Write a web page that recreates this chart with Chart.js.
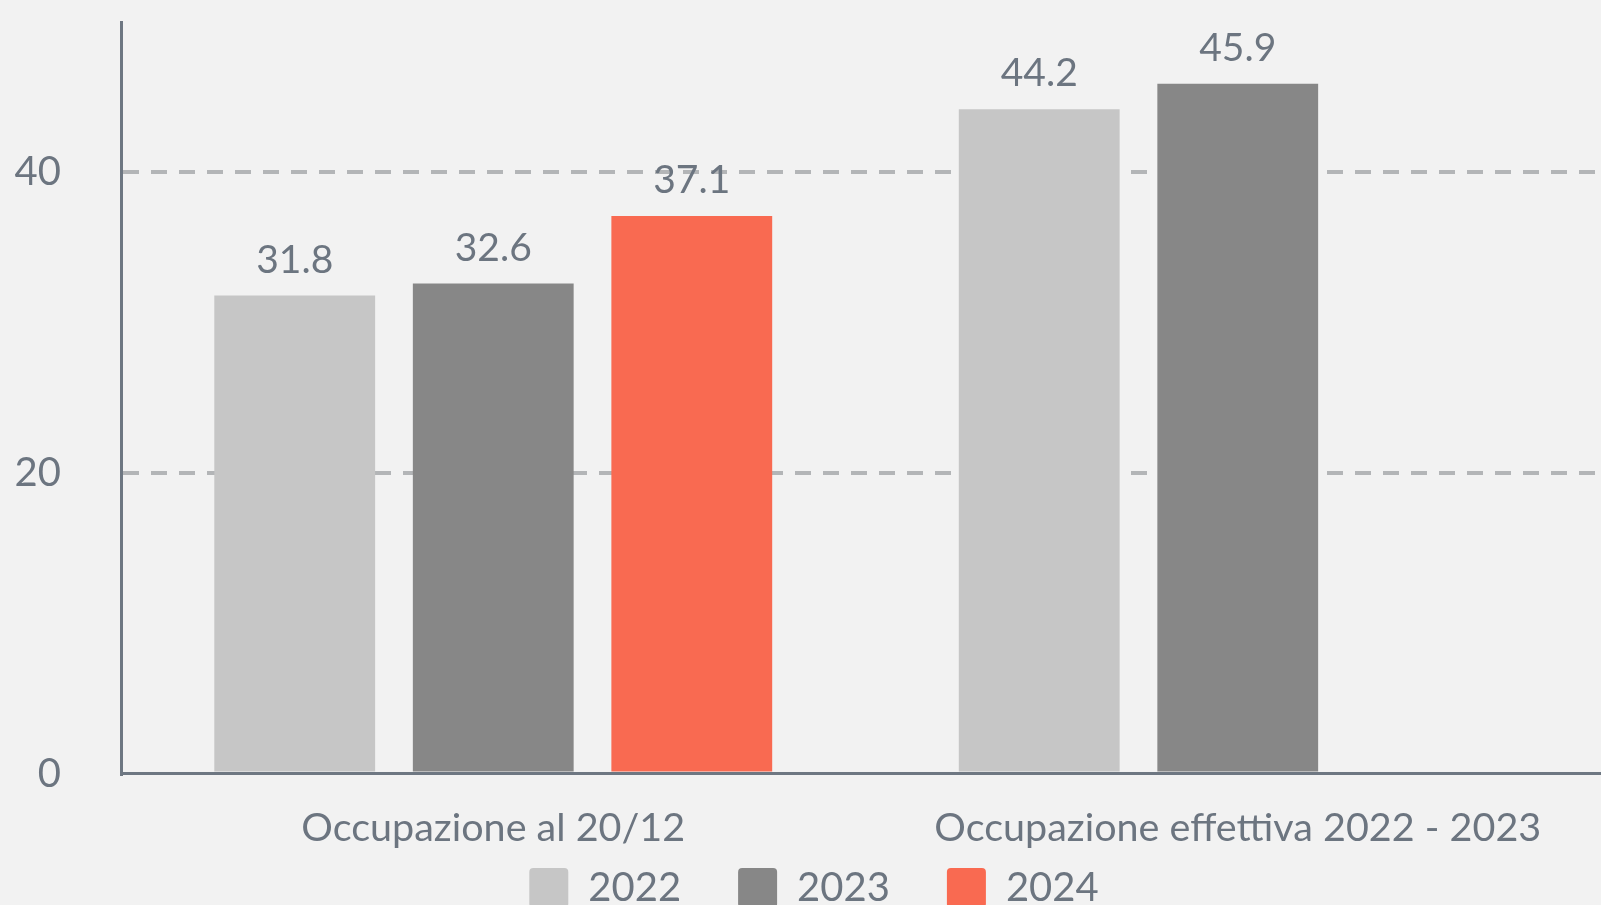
<!DOCTYPE html>
<html>
<head>
<meta charset="utf-8">
<script src="https://cdn.jsdelivr.net/npm/chart.js@4/dist/chart.umd.min.js"></script>
<style>
  html, body { margin: 0; padding: 0; background: #f2f2f2; overflow: hidden; }
  #wrap { position: absolute; left: 0; top: 0; width: 1610px; height: 990px; }
</style>
</head>
<body>
<div id="wrap"><canvas id="chart"></canvas></div>
<script>
  // ---- DATA ----
  const categories = ["Occupazione al 20/12", "Occupazione effettiva 2022 - 2023"];
  const years = ["2022", "2023", "2024"];
  const values2022 = [31.8, 44.2];
  const values2023 = [32.6, 45.9];
  const values2024 = [37.1, null];
  const yTicks = [0, 20, 40];

  const textColor = "#6c7580";
  const axisColor = "#6e7782";
  const colors = ["#c6c6c6", "#878787", "#f96a51"];

  Chart.defaults.font.family = "Lato, sans-serif";
  Chart.defaults.color = textColor;

  // ---- VALUE LABELS PLUGIN ----
  const valueLabels = {
    id: "valueLabels",
    afterDatasetsDraw(chart) {
      const { ctx } = chart;
      ctx.save();
      ctx.font = "39px Lato, sans-serif";
      ctx.fillStyle = textColor;
      ctx.textAlign = "center";
      ctx.textBaseline = "alphabetic";
      chart.data.datasets.forEach((ds, i) => {
        const meta = chart.getDatasetMeta(i);
        meta.data.forEach((bar, j) => {
          const v = ds.data[j];
          if (v == null) return;
          ctx.fillText(v.toFixed(1), bar.x, bar.y - 23);
        });
      });
      ctx.restore();
    }
  };

  // ---- pull the legend up closer to the axis labels ----
  const legendNudge = {
    id: "legendNudge",
    afterLayout(chart) {
      const lg = chart.legend;
      if (!lg) return;
      lg.top -= 72;
      lg.bottom -= 72;
      lg.left += 3;
      lg.right += 3;
    }
  };

  new Chart(document.getElementById("chart"), {
    type: "bar",
    data: {
      labels: categories,
      datasets: [
        { label: years[0], data: values2022, backgroundColor: colors[0] },
        { label: years[1], data: values2023, backgroundColor: colors[1] },
        { label: years[2], data: values2024, backgroundColor: colors[2] }
      ]
    },
    options: {
      responsive: true,
      maintainAspectRatio: false,
      animation: false,
      barPercentage: 0.81,
      categoryPercentage: 0.8,
      layout: { padding: { left: 12, top: 22, right: 0, bottom: 0 } },
      plugins: {
        legend: {
          position: "bottom",
          labels: {
            boxWidth: 39,
            boxHeight: 40,
            padding: 57,
            useBorderRadius: true,
            borderRadius: 4,
            color: textColor,
            font: { size: 40 }
          }
        },
        tooltip: { enabled: false }
      },
      scales: {
        x: {
          afterFit(scale) {
            scale.paddingLeft = 0;
            scale.paddingRight = 0;
          },
          grid: { display: false, drawTicks: false },
          border: { display: true, color: axisColor, width: 3 },
          ticks: { color: textColor, font: { size: 39.5 }, padding: 31 }
        },
        y: {
          min: 0,
          max: 50,
          afterBuildTicks(scale) {
            scale.ticks = yTicks.map(v => ({ value: v }));
          },
          afterFit(scale) {
            scale.width = 109;
            scale.paddingTop = 0;
            scale.paddingBottom = 0;
          },
          grid: {
            drawTicks: false,
            lineWidth: 4,
            color: ctx => (ctx.tick && ctx.tick.value === 0 ? "rgba(0,0,0,0)" : "#b3b5b7")
          },
          border: { display: true, color: axisColor, width: 3, dash: [16, 12] },
          ticks: { color: textColor, font: { size: 40 }, padding: 60 }
        }
      }
    },
    plugins: [valueLabels, legendNudge]
  });
</script>
</body>
</html>
